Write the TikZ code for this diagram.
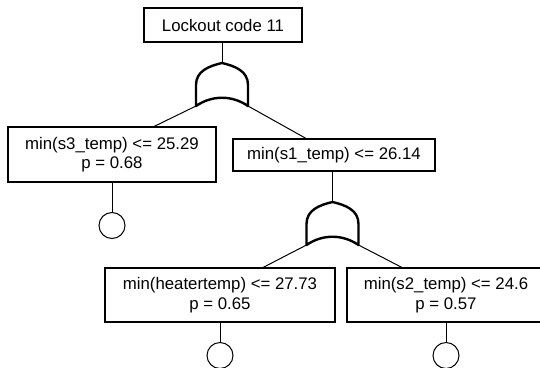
\documentclass[tikz,border=0pt]{standalone}
\usepackage{fontspec}
\setmainfont{Liberation Sans}
\begin{document}
\begin{tikzpicture}[x=1pt,y=-1pt,
  box/.style={draw,line width=1.1pt,rectangle,inner sep=0pt,align=center,
    font=\fontsize{16.8}{19.5}\selectfont},
  conn/.style={line width=1pt},
  gateline/.style={line width=2.4pt,line join=round},
  leaf/.style={draw,circle,line width=1pt,minimum size=26pt,inner sep=0pt}]
\useasboundingbox (0,0) rectangle (540,367);
\begin{scope}
\clip (0,0) rectangle (540,367);
% boxes
\node[box,minimum width=158pt,minimum height=34pt] (top) at (223,25) {Lockout code 11};
\node[box,minimum width=208pt,minimum height=55pt] (L) at (112,154.5) {min(s3\_temp) <= 25.29\\p = 0.68};
\node[box,minimum width=202pt,minimum height=32pt] (R) at (334,155) {min(s1\_temp) <= 26.14};
\node[box,minimum width=230pt,minimum height=54pt] (BL) at (220,295) {min(heatertemp) <= 27.73\\p = 0.65};
\node[box,minimum width=198pt,minimum height=54pt] (BR) at (446,295) {min(s2\_temp) <= 24.6\\p = 0.57};
% leaves
\node[leaf] (cL) at (112,225.5) {};
\node[leaf] (cBL) at (220,355.5) {};
\node[leaf] (cBR) at (446,355.5) {};
% gates
\foreach \n/\cx/\ty in {g1/222/63, g2/332.5/202}{
  \coordinate (\n top) at (\cx,\ty);
  \coordinate (\n bl) at (\cx-26,\ty+43);
  \coordinate (\n br) at (\cx+26,\ty+43);
  \draw[gateline] (\cx-26,\ty+43) -- (\cx-26,\ty+22)
     .. controls (\cx-26,\ty+8) and (\cx-13,\ty+3) .. (\cx,\ty)
     .. controls (\cx+13,\ty+3) and (\cx+26,\ty+8) .. (\cx+26,\ty+22)
     -- (\cx+26,\ty+43)
     .. controls (\cx+10,\ty+32) and (\cx-10,\ty+32) .. cycle;
}
% connector end points on boxes
\coordinate (Lin) at (153,127);
\coordinate (Rin) at (307,139);
\coordinate (BLin) at (262,268);
\coordinate (BRin) at (403,268);
% connectors
\draw[conn] (top.south -| g1top) -- (g1top);
\draw[conn] (g1bl) -- (Lin);
\draw[conn] (g1br) -- (Rin);
\draw[conn] (R.south -| g2top) -- (g2top);
\draw[conn] (g2bl) -- (BLin);
\draw[conn] (g2br) -- (BRin);
\draw[conn] (L.south) -- (cL.north);
\draw[conn] (BL.south) -- (cBL.north);
\draw[conn] (BR.south) -- (cBR.north);
\end{scope}
\end{tikzpicture}
\end{document}
